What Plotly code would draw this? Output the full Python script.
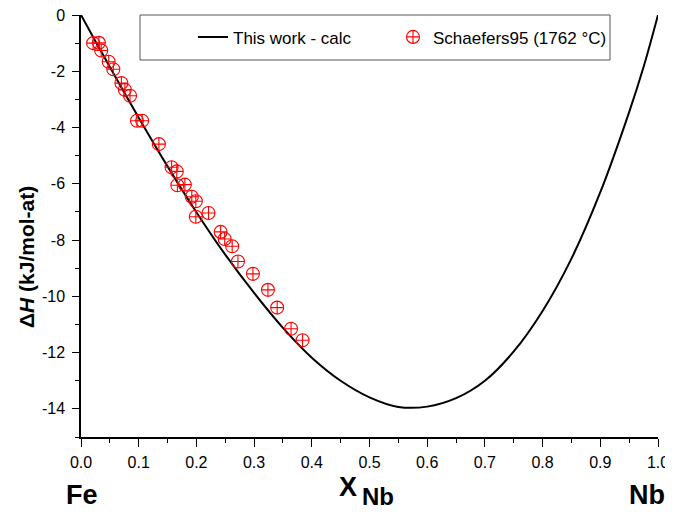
import plotly.graph_objects as go

# Calculated enthalpy of mixing
calc_x = [0, 0.025, 0.05, 0.1, 0.15, 0.2, 0.25, 0.3, 0.35, 0.4, 0.45, 0.5, 0.55,
          0.6, 0.65, 0.7, 0.75, 0.8, 0.85, 0.9, 0.95, 0.975, 1.0]
calc_h = [0, -0.93, -1.85, -3.65, -5.38, -7.01, -8.52, -9.88, -11.12, -12.18, -13.00,
          -13.59, -13.93, -13.92, -13.62, -13.00, -11.96, -10.52, -8.66, -6.30,
          -3.45, -1.85, 0]

# Schaefers95 experimental points
exp_x = [0.021, 0.031, 0.035, 0.048, 0.056, 0.070, 0.076, 0.085, 0.097, 0.106, 0.135,
         0.157, 0.166, 0.167, 0.180, 0.192, 0.199, 0.199, 0.221, 0.242, 0.249, 0.262,
         0.272, 0.298, 0.324, 0.340, 0.364, 0.384]
exp_h = [-1.00, -0.99, -1.26, -1.66, -1.93, -2.42, -2.66, -2.87, -3.76, -3.76, -4.59,
         -5.41, -5.56, -6.05, -6.03, -6.46, -6.62, -7.17, -7.04, -7.71, -7.96, -8.22,
         -8.76, -9.20, -9.77, -10.40, -11.15, -11.56]

y_tickvals = [0, -2, -4, -6, -8, -10, -12, -14]
y_ticktext = ["0", "-2", "-4", "-6", "-8", "-10", "-12", "-14"]
x_tickvals = [0.0, 0.1, 0.2, 0.3, 0.4, 0.5, 0.6, 0.7, 0.8, 0.9, 1.0]
x_ticktext = ["0.0", "0.1", "0.2", "0.3", "0.4", "0.5", "0.6", "0.7", "0.8", "0.9", "1.0"]

FONT = "Liberation Sans, Arial, sans-serif"
OFF = 8  # page body margin offset

fig = go.Figure()
fig.add_trace(go.Scatter(x=calc_x, y=calc_h, mode="lines", name="This work - calc",
                         legend="legend",
                         line=dict(color="black", width=2, shape="spline", smoothing=1.0)))
fig.add_trace(go.Scatter(x=exp_x, y=exp_h, mode="markers", name="Schaefers95 (1762 °C)",
                         legend="legend2",
                         marker=dict(symbol="circle-cross-open", color="red", size=13,
                                     line=dict(width=1.1, color="red"))))

leg_common = dict(orientation="h", xanchor="left", y=0.947, yanchor="middle",
                  bgcolor="rgba(0,0,0,0)", borderwidth=0,
                  font=dict(family=FONT, size=17, color="black"))

fig.update_layout(
    width=673 - OFF, height=515 - OFF,
    margin=dict(l=81 - OFF, r=15, t=15 - OFF, b=78, autoexpand=False),
    paper_bgcolor="white", plot_bgcolor="white",
    font=dict(family=FONT, size=16, color="black"),
    showlegend=True,
    legend=dict(x=(193 - 81) / 577, **leg_common),
    legend2=dict(x=(393 - 81) / 577, **leg_common),
    xaxis=dict(range=[0, 1], showgrid=False, zeroline=False, showline=True, automargin=False,
               linecolor="black", linewidth=1.5, ticks="outside", ticklen=8,
               tickwidth=1.3, tickcolor="black", tickvals=x_tickvals, ticktext=x_ticktext,
               tickfont=dict(family=FONT, size=16, color="black"), ticklabelstandoff=2,
               ticklabeloverflow="allow",
               minor=dict(ticks="outside", ticklen=4, dtick=0.05, tickcolor="black", tickwidth=1.3)),
    yaxis=dict(range=[-15, 0], showgrid=False, zeroline=False, showline=True, automargin=False,
               linecolor="black", linewidth=1.5, ticks="outside", ticklen=7,
               tickwidth=1.3, tickcolor="black", tickvals=y_tickvals, ticktext=y_ticktext,
               tickfont=dict(family=FONT, size=16, color="black"), ticklabelstandoff=4,
               ticklabeloverflow="allow",
               minor=dict(ticks="outside", ticklen=4, dtick=1, tickcolor="black", tickwidth=1.3)),
    xaxis2=dict(range=[0, 1], overlaying="x", side="top", showgrid=False, zeroline=False,
                automargin=False,
                showline=True, linecolor="black", linewidth=1.5, ticks="inside", ticklen=6,
                tickwidth=1.3, tickcolor="black", dtick=0.05, tick0=0, showticklabels=False),
    yaxis2=dict(range=[-15, 0], overlaying="y", side="right", showgrid=False, zeroline=False,
                automargin=False,
                showline=True, linecolor="black", linewidth=1.5, ticks="inside", ticklen=7,
                tickwidth=1.3, tickcolor="black", dtick=1, tick0=0, showticklabels=False),
)

# legend frame
fig.add_shape(type="rect", xref="paper", yref="paper",
              x0=(140 - 81) / 577, x1=(610 - 81) / 577,
              y0=(437 - 60) / 422, y1=1.0,
              line=dict(color="#555555", width=1), fillcolor="white", layer="above")

# axis titles and element labels
fig.add_annotation(text="<b>Δ<i>H</i> (kJ/mol-at)</b>", textangle=-90, xref="paper", yref="paper",
                   x=(26 - 81) / 577, y=(437 - 257) / 422, xanchor="center", yanchor="middle",
                   showarrow=False, font=dict(family=FONT, size=21, color="black"))
fig.add_annotation(text="<b>X</b>", xref="paper", yref="paper",
                   x=(348 - 81) / 577, y=(437 - 487) / 422, xanchor="center", yanchor="middle",
                   showarrow=False, font=dict(family=FONT, size=27, color="black"))
fig.add_annotation(text="<b>Nb</b>", xref="paper", yref="paper",
                   x=(378 - 81) / 577, y=(437 - 496) / 422, xanchor="center", yanchor="middle",
                   showarrow=False, font=dict(family=FONT, size=24, color="black"))
fig.add_annotation(text="<b>Fe</b>", xref="paper", yref="paper",
                   x=(82 - 81) / 577, y=(437 - 495) / 422, xanchor="center", yanchor="middle",
                   showarrow=False, font=dict(family=FONT, size=27, color="black"))
fig.add_annotation(text="<b>Nb</b>", xref="paper", yref="paper",
                   x=(647 - 81) / 577, y=(437 - 495) / 422, xanchor="center", yanchor="middle",
                   showarrow=False, font=dict(family=FONT, size=27, color="black"))

fig.write_html("out.html")
